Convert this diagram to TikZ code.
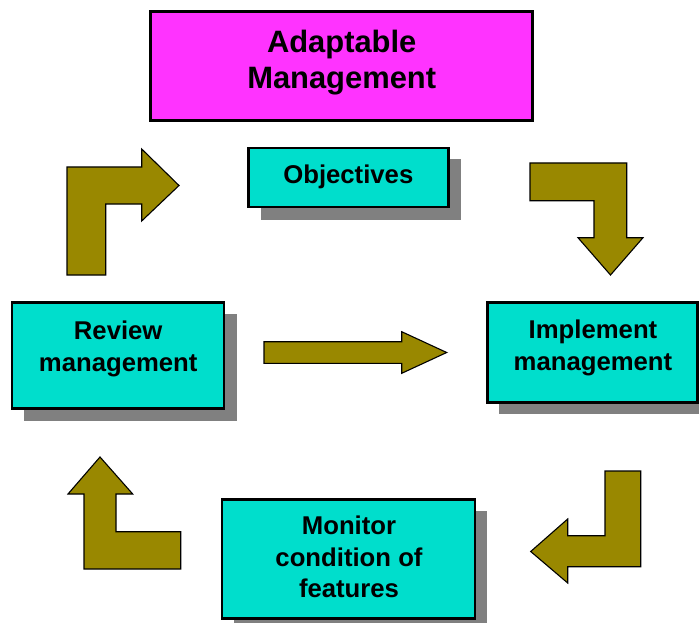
\documentclass[tikz,border=0pt]{standalone}
\usepackage{fontspec}
\setmainfont{Liberation Sans}
\definecolor{magbox}{RGB}{255,51,255}
\definecolor{cyanbox}{RGB}{0,222,204}
\definecolor{olivearrow}{RGB}{153,136,0}
\definecolor{shadowgray}{RGB}{128,128,128}
\tikzset{
  box/.style={draw=black, line width=2.4pt, fill=cyanbox},
  topbox/.style={draw=black, line width=3.5pt, fill=magbox},
  shadowbox/.style={fill=shadowgray, draw=none},
  label/.style={inner sep=0pt, anchor=north, align=center, font=\bfseries\fontsize{25.7}{31.5}\selectfont},
  toplabel/.style={inner sep=0pt, anchor=north, align=center, font=\bfseries\fontsize{30.9}{35.5}\selectfont},
  blockarrow/.style={draw=black, line width=1.1pt, fill=olivearrow, line join=miter},
}
\begin{document}
\begin{tikzpicture}[x=1pt,y=-1pt]
\useasboundingbox (0,0) rectangle (699,623);
% top box
\draw[topbox] (150.7,11.7) rectangle (532.7,120.7);
\node[toplabel] (adapt) at (341.7,30.2) {Adaptable\\Management};
% shadows
\fill[shadowbox] (260.5,159.5) rectangle (460.5,219.5);
\fill[shadowbox] (23.7,314.3) rectangle (236.5,420.5);
\fill[shadowbox] (498.5,313.5) rectangle (710,414.3);
\fill[shadowbox] (233.7,510.5) rectangle (487.3,630);
% boxes
\draw[box] (248.3,148.3) rectangle (448.3,206.7);
\node[label] (obj) at (348.3,164.3) {Objectives};
\draw[box] (11.7,302.3) rectangle (224,408.3);
\node[label] (rev) at (118.2,321) {Review\\management};
\draw[box] (487.3,302.3) rectangle (697.5,402.3);
\node[label] (imp) at (593,319.8) {Implement\\management};
\draw[box] (221.7,499.3) rectangle (475,618.3);
\node[label] (mon) at (349,515.8) {Monitor\\condition of\\features};
% arrows
\draw[blockarrow] (67,275) -- (67,167) -- (141.7,167) -- (141.7,149) -- (179,185.5) -- (141.7,221) -- (141.7,204) -- (105.7,204) -- (105.7,275) -- cycle;
\draw[blockarrow] (530,163) -- (626.7,163) -- (626.7,237.7) -- (643,237.7) -- (610.5,275) -- (578,237.7) -- (594,237.7) -- (594,200.7) -- (530,200.7) -- cycle;
\draw[blockarrow] (605,471) -- (640.7,471) -- (640.7,566.7) -- (567.7,566.7) -- (567.7,583) -- (530.7,551.5) -- (567.7,519) -- (567.7,535.7) -- (605,535.7) -- cycle;
\draw[blockarrow] (180.7,569) -- (84,569) -- (84,494) -- (68,494) -- (100,457) -- (132.7,494) -- (116,494) -- (116,531.7) -- (180.7,531.7) -- cycle;
\draw[blockarrow] (264,341.7) -- (401.7,341.7) -- (401.7,331.7) -- (446.7,352.5) -- (401.7,373.3) -- (401.7,363.3) -- (264,363.3) -- cycle;
\end{tikzpicture}
\end{document}
